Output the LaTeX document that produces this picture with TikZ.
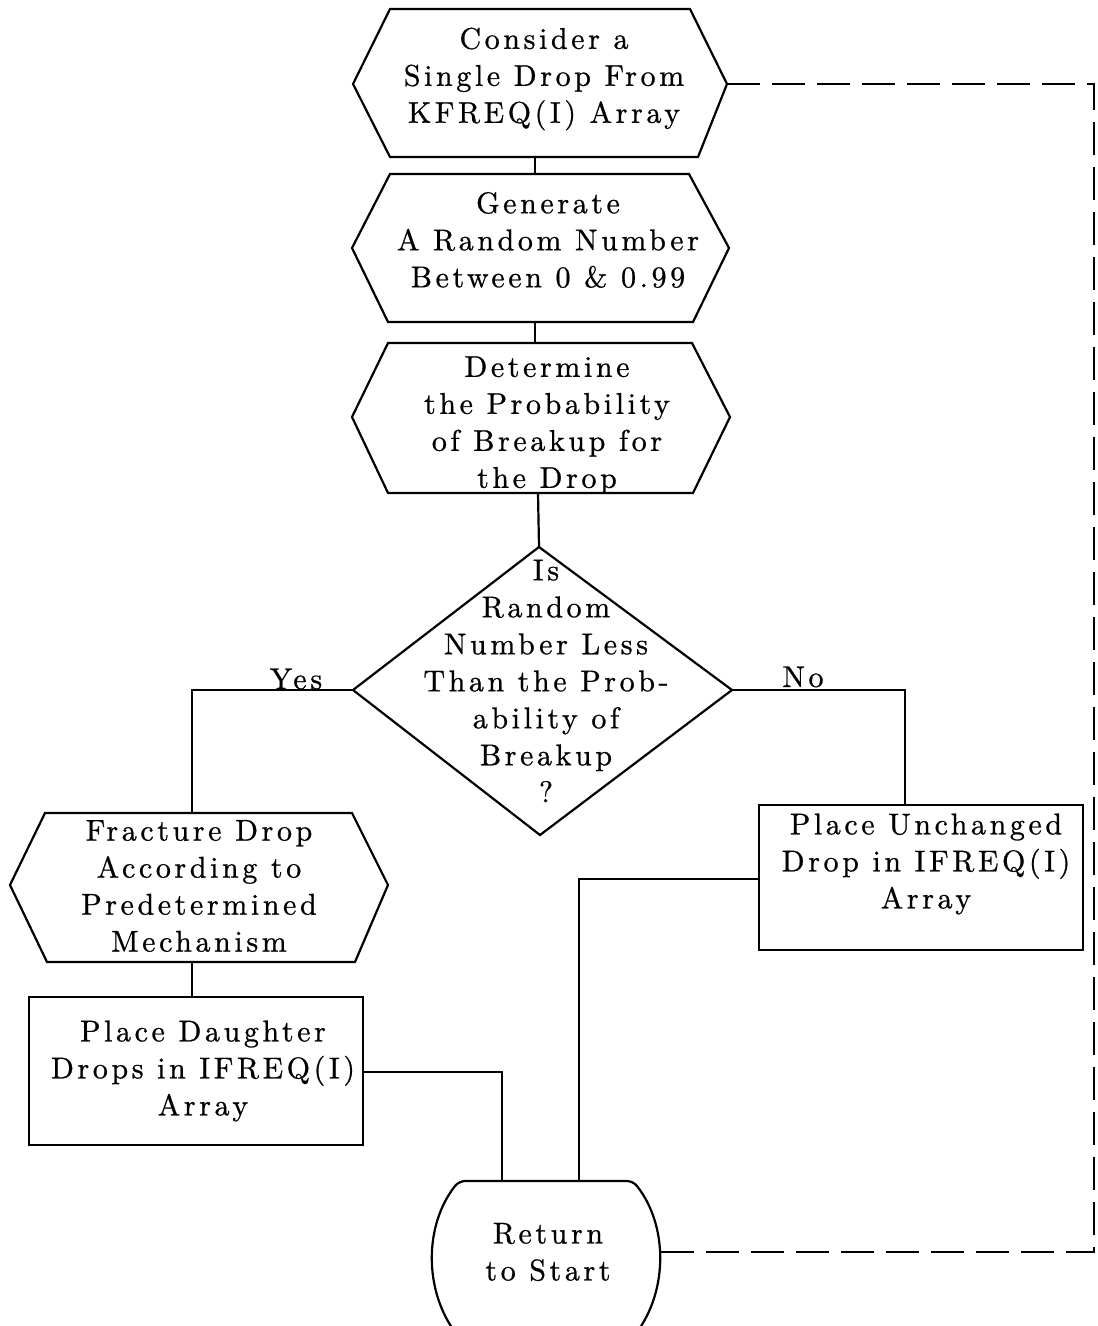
\documentclass[tikz,border=0pt]{standalone}
\usepackage{fontspec}
\newfontfamily\flowfam{lmroman10-regular.otf}[LetterSpace=12,FakeBold=0.8]
\newcommand\flowfont{\flowfam\fontsize{15}{18.5}\selectfont}
\begin{document}
\begin{tikzpicture}[x=0.5pt,y=-0.5pt,
  box/.style={line width=1.1pt, line join=miter},
  conn/.style={line width=1.1pt},
  back/.style={line width=1.1pt, dash pattern=on 16.5pt off 6pt},
  txt/.style={align=center, inner sep=0pt, font=\flowfont},
  lbl/.style={inner sep=0pt, anchor=base, font=\flowfont}]
\useasboundingbox (0,0) rectangle (1097,1326);

% ---- shapes ----
\draw[box] (353,84) -- (390,9) -- (690,9) -- (727,84) -- (698,157) -- (390,157) -- cycle;
\draw[box] (352,248) -- (390,174) -- (689,174) -- (729,248) -- (693,322) -- (388,322) -- cycle;
\draw[box] (352,417) -- (388,343) -- (692,343) -- (730,417) -- (693,493) -- (388,493) -- cycle;
\draw[box] (539,547) -- (732,690) -- (540,835) -- (353,690) -- cycle;
\draw[box] (10,885) -- (45,813) -- (352,813) -- (388,885) -- (355,962) -- (47,962) -- cycle;
\draw[box] (29,997) rectangle (363,1145);
\draw[box] (759,805) rectangle (1083,950);
\draw[box, rounded corners=3pt] (455,1332) .. controls (424,1290) and (424,1225) .. (459,1181)
  -- (633,1181) .. controls (668,1225) and (668,1290) .. (637,1332);

% ---- texts ----
\node[txt] (consider) at (544,79) {Consider a\\Single Drop From\\KFREQ(I) Array};
\node[txt] (generate) at (548,240) {Generate\\A Random Number\\Between 0 \& 0.99};
\node[txt] (determine) at (547,425) {Determine\\the Probability\\of Breakup for\\the Drop};
\node[txt] (decide) at (546,681) {Is\\Random\\Number Less\\Than the Prob-\\ability of\\Breakup\\?};
\node[txt] (fracture) at (199,886) {Fracture Drop\\According to\\Predetermined\\Mechanism};
\node[txt] (daughter) at (203,1071) {Place Daughter\\Drops in IFREQ(I)\\Array};
\node[txt] (unchanged) at (926,864) {Place Unchanged\\Drop in IFREQ(I)\\Array};
\node[txt] (ret) at (548,1252) {Return\\to Start};
\node[lbl] (yes) at (296,689) {Yes};
\node[lbl] (no) at (803,687) {No};

% ---- connection points ----
\coordinate (c1b) at (535,157);
\coordinate (c2t) at (535,174);
\coordinate (c2b) at (535,322);
\coordinate (c3t) at (535,343);
\coordinate (c3b) at (538,493);
\coordinate (dt) at (539,547);
\coordinate (dl) at (353,690);
\coordinate (dr) at (732,690);
\coordinate (ft) at (192,813);
\coordinate (fb) at (192,962);
\coordinate (pdt) at (192,997);
\coordinate (pdr) at (363,1072);
\coordinate (put) at (905,805);
\coordinate (pul) at (759,879);
\coordinate (rt1) at (502,1181);
\coordinate (rt2) at (579,1181);
\coordinate (re) at (659,1252);
\coordinate (c1e) at (727,84);
\coordinate (corner) at (1094,84);

% ---- connectors ----
\draw[conn] (c1b) -- (c2t);
\draw[conn] (c2b) -- (c3t);
\draw[conn] (c3b) -- (dt);
\draw[conn] (dl) -| (ft);
\draw[conn] (dr) -| (put);
\draw[conn] (fb) -- (pdt);
\draw[conn] (pdr) -| (rt1);
\draw[conn] (pul) -| (rt2);
\draw[back] (c1e) -- (corner) |- (re);
\end{tikzpicture}
\end{document}
